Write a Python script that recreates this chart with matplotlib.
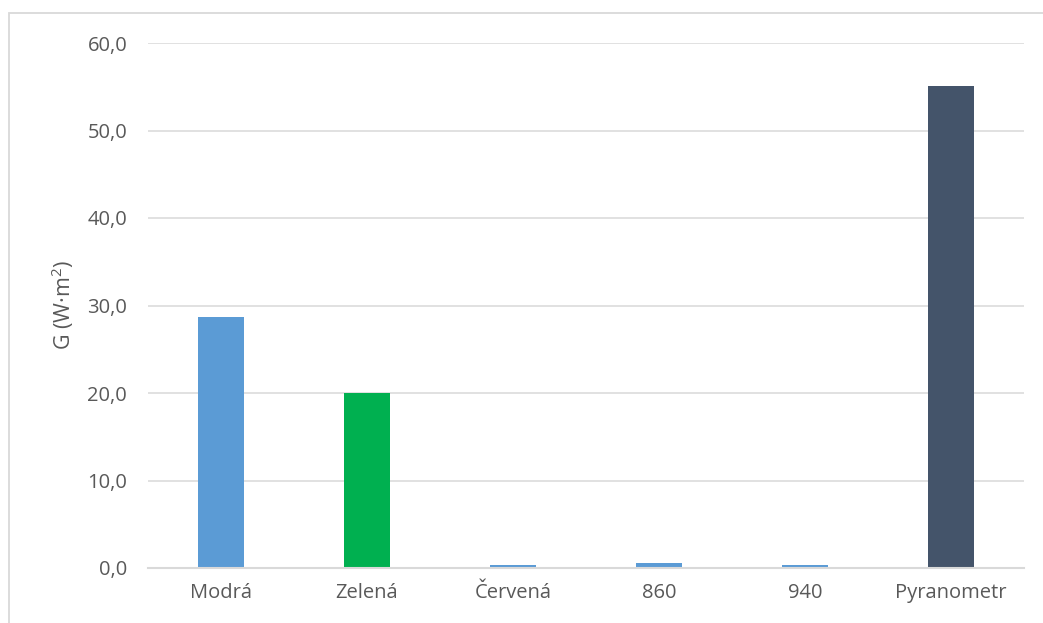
import matplotlib.pyplot as plt
from matplotlib.patches import Rectangle

categories = ["Modrá", "Zelená", "Červená", "860", "940", "Pyranometr"]
values = [28.7, 20.0, 0.3, 0.55, 0.4, 55.1]
colors = ["#5B9BD5", "#00B050", "#5B9BD5", "#5B9BD5", "#5B9BD5", "#44546A"]
yticks = [0, 10, 20, 30, 40, 50, 60]

plt.rcParams['font.family'] = ['Open Sans', 'DejaVu Sans']
plt.rcParams['mathtext.fontset'] = 'custom'
plt.rcParams['mathtext.rm'] = 'Open Sans'
plt.rcParams['mathtext.default'] = 'regular'
text_color = "#595959"
grid_color = "#D9D9D9"

fig = plt.figure(figsize=(10.43, 6.23), dpi=100)
ax = fig.add_axes([148 / 1043, 1 - 568 / 623, (1024 - 148) / 1043, (568 - 43) / 623])

x = range(len(categories))
ax.bar(x, values, width=0.31, color=colors, zorder=3)

ax.set_xlim(-0.5, len(categories) - 0.5)
ax.set_ylim(0, 60)
ax.set_yticks(yticks)
ax.set_yticklabels([f"{v:.1f}".replace(".", ",") for v in yticks])
ax.set_xticks(list(x))
ax.set_xticklabels(categories)

ax.grid(axis="y", color=grid_color, linewidth=1.1, zorder=0)
ax.tick_params(axis="both", length=0, labelsize=14.5, colors=text_color)
ax.tick_params(axis="y", pad=15)
ax.tick_params(axis="x", pad=11)
for side in ["top", "right", "left"]:
    ax.spines[side].set_visible(False)
ax.spines["bottom"].set_color(grid_color)
ax.spines["bottom"].set_linewidth(1.5)
ax.spines["bottom"].set_zorder(4)

ax.set_ylabel("G (W·m$^{2}$)", fontsize=15.5, color=text_color, labelpad=8)

# Light chart-area frame
fig.patches.append(Rectangle((9 / 1043, -0.1), 1.2, 1.1 - 13 / 623,
                             transform=fig.transFigure, fill=False,
                             edgecolor=grid_color, linewidth=1.3))

fig.savefig("out.png", dpi=100)
